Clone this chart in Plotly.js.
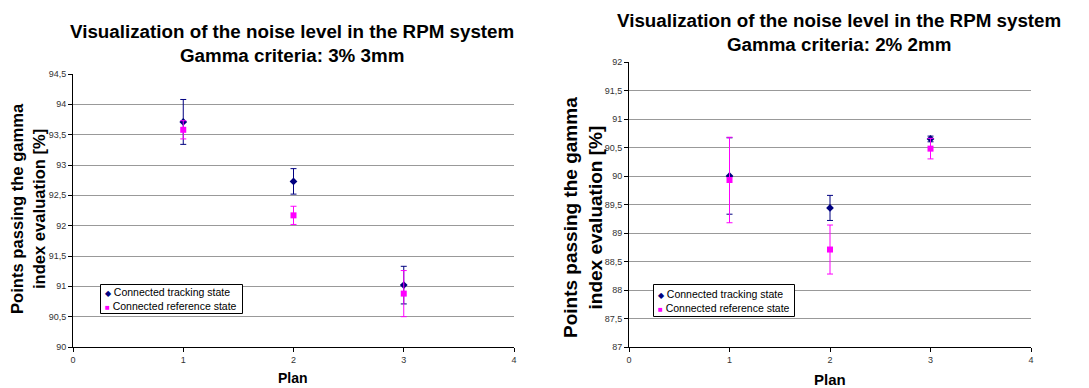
<!DOCTYPE html>
<html>
<head>
<meta charset="utf-8">
<script src="https://cdn.plot.ly/plotly-3.0.1.min.js"></script>
<style>html,body{margin:0;padding:0;background:#fff;}#chart{width:1089px;height:388px;}</style>
</head>
<body>
<div id="chart"></div>
<script>
// ---- data ----
const plans = [1, 2, 3];
const xTickVals = [0, 1, 2, 3, 4];
const seriesNames = ["Connected tracking state", "Connected reference state"];

// Gamma 3% 3mm (left chart)
const g33Tracking = [93.71, 92.73, 91.02];
const g33TrackingErr = [0.37, 0.21, 0.31];
const g33Reference = [93.58, 92.17, 90.88];
const g33ReferenceErr = [0.15, 0.15, 0.38];

// Gamma 2% 2mm (right chart)
const g22Tracking = [90.00, 89.44, 90.65];
const g22TrackingErr = [0.67, 0.22, 0.05];
const g22Reference = [89.93, 88.71, 90.48];
const g22ReferenceErr = [0.75, 0.43, 0.18];

const titleLeftLines = ["Visualization of the noise level in the RPM system", "Gamma criteria: 3% 3mm"];
const titleRightLines = ["Visualization of the noise level in the RPM system", "Gamma criteria: 2% 2mm"];
const yTitleLines = ["Points passing the gamma", "index evaluation [%]"];
const xTitle = "Plan";

// ---- styles ----
const FONT = "Liberation Sans, Arial, sans-serif";
const NAVY = "#000080";
const MAGENTA = "#FF00FF";

function tracking(y, err, xa, ya) {
  return {
    type: "scatter", mode: "markers", name: seriesNames[0],
    x: plans, y: y, xaxis: xa, yaxis: ya, showlegend: false,
    marker: {symbol: "diamond", color: NAVY, size: 6},
    error_y: {type: "data", array: err, visible: true, color: NAVY, thickness: 1, width: 3}
  };
}
function reference(y, err, xa, ya) {
  return {
    type: "scatter", mode: "markers", name: seriesNames[1],
    x: plans, y: y, xaxis: xa, yaxis: ya, showlegend: false,
    marker: {symbol: "square", color: MAGENTA, size: 6},
    error_y: {type: "data", array: err, visible: true, color: MAGENTA, thickness: 1, width: 3}
  };
}

const data = [
  tracking(g33Tracking, g33TrackingErr, "x", "y"),
  reference(g33Reference, g33ReferenceErr, "x", "y"),
  tracking(g22Tracking, g22TrackingErr, "x2", "y2"),
  reference(g22Reference, g22ReferenceErr, "x2", "y2")
];

function xaxis(domain, anchor) {
  return {
    domain: domain, anchor: anchor, range: [0, 4], tickvals: xTickVals,
    showgrid: false, zeroline: false, showline: true, linecolor: "#000", linewidth: 1,
    ticks: "outside", ticklen: 4, tickcolor: "#000",
    tickfont: {family: FONT, size: 9, color: "#333"}, fixedrange: true
  };
}
function yaxis(domain, anchor, range) {
  return {
    domain: domain, anchor: anchor, range: range, dtick: 0.5,
    showgrid: true, gridcolor: "#999", gridwidth: 1, zeroline: false,
    showline: true, linecolor: "#000", linewidth: 1,
    ticks: "outside", ticklen: 4, tickcolor: "#000",
    tickfont: {family: FONT, size: 9, color: "#333"}, fixedrange: true
  };
}

const bold = lines => lines.map(s => "<b>" + s + "</b>").join("<br>");
const legendText =
  '&nbsp;<span style="color:' + NAVY + ';font-size:8px">◆</span> ' + seriesNames[0] + '<br>' +
  '&nbsp;<span style="color:' + MAGENTA + ';font-size:8px">■</span> ' + seriesNames[1];

const H = 388, W = 1089;
function legendText_(xLeft, yMid) {
  return {
    text: legendText, xref: "paper", yref: "paper",
    x: xLeft / W, y: 1 - yMid / H, xanchor: "left", yanchor: "middle",
    align: "left", showarrow: false,
    font: {family: FONT, size: 10.5, color: "#000"}
  };
}
function legendFrame(x0, y0, x1, y1) {
  return {
    type: "rect", xref: "paper", yref: "paper", layer: "above",
    x0: x0 / W, x1: x1 / W, y0: 1 - y0 / H, y1: 1 - y1 / H,
    line: {color: "#000", width: 1}, fillcolor: "#fff"
  };
}

const layout = {
  width: W, height: H,
  margin: {l: 0, r: 0, t: 0, b: 0},
  paper_bgcolor: "#fff", plot_bgcolor: "#fff",
  separators: ", ",
  showlegend: false,
  font: {family: FONT, color: "#000"},
  xaxis: xaxis([73 / W, 514 / W], "y"),
  yaxis: yaxis([1 - 347 / H, 1 - 74 / H], "x", [90, 94.5]),
  xaxis2: xaxis([629 / W, 1031 / W], "y2"),
  yaxis2: yaxis([1 - 347 / H, 1 - 62 / H], "x2", [87, 92]),
  shapes: [
    legendFrame(100.5, 284.5, 242.5, 313.5),
    legendFrame(653.5, 284.5, 794.5, 316.5)
  ],
  annotations: [
    {text: bold(titleLeftLines), xref: "paper", yref: "paper",
     x: 292 / W, y: 1 - 43 / H, xanchor: "center", yanchor: "middle", showarrow: false,
     font: {family: FONT, size: 18.8, color: "#000"}},
    {text: bold(titleRightLines), xref: "paper", yref: "paper",
     x: 839 / W, y: 1 - 32 / H, xanchor: "center", yanchor: "middle", showarrow: false,
     font: {family: FONT, size: 18.8, color: "#000"}},
    {text: bold(yTitleLines), xref: "paper", yref: "paper",
     x: 28 / W, y: 1 - 209 / H, xanchor: "center", yanchor: "middle", showarrow: false, textangle: -90,
     font: {family: FONT, size: 16.6, color: "#000"}},
    {text: bold(yTitleLines), xref: "paper", yref: "paper",
     x: 583 / W, y: 1 - 218 / H, xanchor: "center", yanchor: "middle", showarrow: false, textangle: -90,
     font: {family: FONT, size: 19, color: "#000"}},
    {text: "<b>" + xTitle + "</b>", xref: "paper", yref: "paper",
     x: 293 / W, y: 1 - 378 / H, xanchor: "center", yanchor: "middle", showarrow: false,
     font: {family: FONT, size: 14, color: "#000"}},
    {text: "<b>" + xTitle + "</b>", xref: "paper", yref: "paper",
     x: 830 / W, y: 1 - 379 / H, xanchor: "center", yanchor: "middle", showarrow: false,
     font: {family: FONT, size: 15, color: "#000"}},
    legendText_(100, 299),
    legendText_(653, 300.5)
  ]
};

Plotly.newPlot("chart", data, layout, {staticPlot: true, displayModeBar: false});
</script>
</body>
</html>
